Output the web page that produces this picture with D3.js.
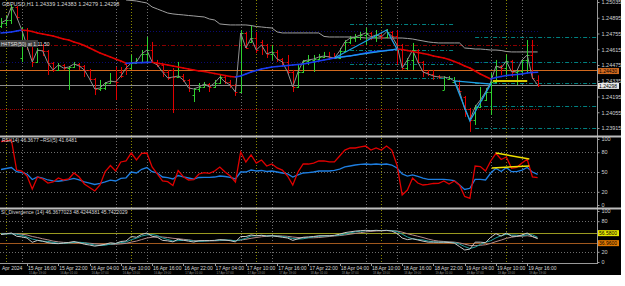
<!DOCTYPE html>
<html>
<head>
<meta charset="utf-8">
<script src="https://cdn.jsdelivr.net/npm/d3@7"></script>
<style>
  body { margin: 0; background: #fff; }
  svg { display: block; font-family: "Liberation Sans", Arial, sans-serif; }
</style>
</head>
<body>
<svg id="chart" width="625" height="286"></svg>
<script>
// GBPUSD H1, bars from 15 Apr 2024 11:00 (UTC), one per hour
const opens = [1.24822,1.24849,1.24875,1.24991,1.24537,1.24786,1.24644,1.24502,1.24608,1.24600,1.24493,1.24431,1.24475,1.24448,1.24457,1.24484,1.24466,1.24431,1.24351,1.24262,1.24271,1.24315,1.24333,1.24413,1.24484,1.24448,1.24493,1.24502,1.24573,1.24608,1.24502,1.24475,1.24413,1.24431,1.24368,1.24377,1.24342,1.24208,1.24262,1.24280,1.24306,1.24280,1.24315,1.24368,1.24324,1.24297,1.24235,1.24760,1.24680,1.24715,1.24680,1.24653,1.24573,1.24591,1.24528,1.24502,1.24413,1.24280,1.24413,1.24511,1.24520,1.24528,1.24546,1.24555,1.24546,1.24537,1.24600,1.24680,1.24715,1.24724,1.24742,1.24760,1.24724,1.24742,1.24724,1.24769,1.24733,1.24653,1.24448,1.24520,1.24608,1.24502,1.24413,1.24395,1.24377,1.24253,1.24351,1.24324,1.24333,1.24191,1.24084,1.23986,1.24102,1.24164,1.24235,1.24324,1.24466,1.24448,1.24511,1.24413,1.24422,1.24520,1.24564,1.24339];
const highs = [1.24893,1.24911,1.25009,1.25000,1.24813,1.24804,1.24653,1.24626,1.24662,1.24608,1.24502,1.24493,1.24484,1.24466,1.24502,1.24493,1.24475,1.24440,1.24360,1.24342,1.24324,1.24404,1.24457,1.24457,1.24493,1.24564,1.24537,1.24608,1.24724,1.24680,1.24520,1.24484,1.24431,1.24448,1.24502,1.24395,1.24351,1.24271,1.24315,1.24324,1.24315,1.24342,1.24386,1.24377,1.24342,1.24306,1.24786,1.24769,1.24822,1.24769,1.24697,1.24662,1.24653,1.24608,1.24537,1.24564,1.24431,1.24475,1.24520,1.24564,1.24564,1.24573,1.24591,1.24591,1.24582,1.24626,1.24697,1.24733,1.24751,1.24769,1.24804,1.24769,1.24786,1.24751,1.24795,1.24777,1.24786,1.24662,1.24537,1.24671,1.24617,1.24511,1.24431,1.24431,1.24386,1.24377,1.24377,1.24368,1.24342,1.24200,1.24093,1.24120,1.24280,1.24271,1.24404,1.24520,1.24475,1.24564,1.24520,1.24431,1.24520,1.24697,1.24697,1.24383];
const lows = [1.24804,1.24822,1.24840,1.24875,1.24502,1.24608,1.24457,1.24493,1.24555,1.24386,1.24413,1.24422,1.24431,1.24253,1.24448,1.24431,1.24368,1.24342,1.24208,1.24244,1.24253,1.24306,1.24164,1.24360,1.24386,1.24440,1.24484,1.24493,1.24493,1.24493,1.24457,1.24368,1.24342,1.24048,1.24360,1.24324,1.24235,1.24146,1.24235,1.24271,1.24235,1.24271,1.24306,1.24306,1.24271,1.24200,1.24226,1.24617,1.24671,1.24582,1.24564,1.24537,1.24520,1.24502,1.24466,1.24386,1.24235,1.24271,1.24404,1.24475,1.24413,1.24520,1.24537,1.24520,1.24528,1.24528,1.24591,1.24662,1.24680,1.24697,1.24653,1.24697,1.24680,1.24697,1.24715,1.24680,1.24475,1.24431,1.24431,1.24431,1.24484,1.24368,1.24377,1.24342,1.24351,1.24253,1.24342,1.24324,1.24208,1.24013,1.23880,1.23942,1.24093,1.24155,1.24031,1.24315,1.24386,1.24368,1.24368,1.24297,1.24386,1.24404,1.24351,1.24279];
const closes = [1.24849,1.24875,1.24991,1.24902,1.24786,1.24644,1.24502,1.24608,1.24600,1.24493,1.24431,1.24475,1.24448,1.24457,1.24484,1.24466,1.24431,1.24351,1.24262,1.24271,1.24315,1.24333,1.24324,1.24377,1.24448,1.24493,1.24502,1.24573,1.24608,1.24502,1.24475,1.24413,1.24360,1.24368,1.24377,1.24342,1.24271,1.24262,1.24280,1.24306,1.24280,1.24315,1.24368,1.24324,1.24297,1.24235,1.24760,1.24626,1.24715,1.24608,1.24653,1.24573,1.24591,1.24528,1.24502,1.24413,1.24280,1.24413,1.24511,1.24520,1.24528,1.24546,1.24555,1.24546,1.24537,1.24600,1.24680,1.24715,1.24724,1.24742,1.24760,1.24724,1.24742,1.24724,1.24769,1.24733,1.24653,1.24448,1.24520,1.24608,1.24502,1.24413,1.24395,1.24377,1.24368,1.24368,1.24360,1.24333,1.24244,1.24084,1.23986,1.24102,1.24164,1.24235,1.24324,1.24466,1.24448,1.24511,1.24413,1.24422,1.24520,1.24564,1.24360,1.24298];

// colour-changing moving average
const maValues = [1.24760,1.24764,1.24769,1.24777,1.24786,1.24782,1.24773,1.24760,1.24751,1.24742,1.24733,1.24720,1.24706,1.24697,1.24680,1.24666,1.24648,1.24626,1.24604,1.24582,1.24564,1.24546,1.24528,1.24511,1.24491,1.24493,1.24495,1.24496,1.24498,1.24500,1.24490,1.24484,1.24475,1.24466,1.24457,1.24448,1.24440,1.24431,1.24422,1.24417,1.24408,1.24399,1.24391,1.24382,1.24373,1.24368,1.24377,1.24395,1.24413,1.24426,1.24440,1.24448,1.24457,1.24462,1.24466,1.24471,1.24475,1.24480,1.24484,1.24493,1.24502,1.24511,1.24520,1.24528,1.24537,1.24546,1.24551,1.24555,1.24564,1.24573,1.24582,1.24591,1.24595,1.24600,1.24604,1.24608,1.24617,1.24613,1.24604,1.24595,1.24586,1.24577,1.24568,1.24555,1.24546,1.24537,1.24524,1.24506,1.24489,1.24466,1.24448,1.24422,1.24395,1.24373,1.24351,1.24364,1.24373,1.24382,1.24386,1.24391,1.24395,1.24404,1.24408,1.24410];

// stepped upper band, starts at bar 24
const bandStart = 24;
const bandValues = [1.25053,1.25049,1.25044,1.25035,1.25026,1.24991,1.24973,1.24955,1.24937,1.24929,1.24924,1.24920,1.24915,1.24911,1.24906,1.24902,1.24884,1.24875,1.24840,1.24835,1.24831,1.24831,1.24831,1.24831,1.24826,1.24817,1.24813,1.24808,1.24804,1.24769,1.24760,1.24760,1.24760,1.24760,1.24760,1.24760,1.24760,1.24760,1.24729,1.24724,1.24724,1.24724,1.24724,1.24724,1.24720,1.24720,1.24715,1.24715,1.24715,1.24715,1.24715,1.24715,1.24715,1.24715,1.24711,1.24706,1.24697,1.24689,1.24680,1.24675,1.24671,1.24671,1.24671,1.24671,1.24671,1.24626,1.24622,1.24617,1.24617,1.24613,1.24608,1.24608,1.24604,1.24595,1.24591,1.24591,1.24591,1.24591,1.24591,1.24591];

// horizontal levels
const priceTicks = [1.25035,1.24895,1.24755,1.24615,1.24475,1.24335,1.24195,1.24055,1.23915];
const orangeLevel = 1.24430;
const bidPrice = 1.24298;
const redDashLevel = 1.24653;
const redDotLevel = 1.24084;
const navyLevels = [1.24777, 1.24502];
const fiboA = { from: 67, to: 87, levels: [1.24840, 1.24608, 1.24484, 1.24360] };
const fiboB = { from: 91, levels: [1.24724, 1.24502, 1.24315, 1.24111, 1.23915] };

// drawn patterns [bar, price]
const triangleA = [[64, 1.24537], [74, 1.24786], [76, 1.24617], [64, 1.24537]];
const triangleB = [[87, 1.24333], [90, 1.23977], [94, 1.24306], [87, 1.24333]];
const yellowSegment = [[94.4, 1.24333], [101, 1.24333]];

// RSI panel
const rsiFast = [96.2,97,98.5,53,51.5,43.9,24.2,42.4,39.4,33.3,34.9,40.9,37.9,39.4,48.5,42.4,31.8,26.5,21.2,30.3,50.8,59.9,51.5,65.2,66.7,78.8,68.2,78.3,78.8,57.6,47,36.4,35.3,29.6,52.3,42.9,37.9,38.6,47,48.9,48,51.5,57.6,50,43.9,34.9,80.3,65.2,75.8,63.6,68.2,59.1,62.1,56.1,53,43.9,30.3,50,62.1,62.1,63.6,66.7,66.7,65.2,65.2,74.2,83.3,86.4,86.4,87.9,89.4,83.3,86.4,83.3,89.4,83.3,60.6,15.2,22.7,40.9,33.3,30.3,31.1,32.6,32.9,36.4,31.8,36.4,30.3,12.9,10.2,59.1,58.3,51.5,66.7,78.3,68.9,72.7,55.6,57.1,63.6,69.2,42.4,41.6];
const rsiSlow = [53.8,55.3,56.8,50.5,49.2,47,38.6,42.4,40.9,37.9,36.4,36,37.1,38.3,40.2,37.9,34.9,33.3,31.1,32.6,34.9,37.6,36.4,40.2,41.2,50,48.5,54.1,56.8,50.5,48.5,42.4,41.5,39.4,44.7,42.7,40.9,39.1,41.7,42,42,42.4,43.9,43.2,41.7,39.4,50,50,53,51.5,52.3,50.8,51.5,50,48.5,47,42.4,45.5,48.5,49.2,50,51.5,51.5,51.5,52.3,54.5,57.6,59.1,60.6,61.4,62.1,61.4,62.1,61.4,62.1,60.6,56.1,47,43.9,45.5,43.2,40.9,38.9,38.9,38.9,38.9,38.2,37.1,30.3,23.5,25.3,38.9,38.9,37.9,48.5,55.6,50.8,56.8,50.5,50.5,53,56.8,50,46.4];
const rsiLevels = [80, 50, 20];
const rsiTicks = [100, 80, 50, 20, 0];
const rsiDivLines = [[[95, 78.8], [101.4, 69.7]], [[94.2, 56.1], [101.4, 59.1]]];

// divergence panel
const divSignal = [55,55,55.3,54.2,52.2,48.9,44.9,42.7,40.6,40.4,38.4,36.8,36.5,37.1,38.5,38.8,37.7,35.4,33.1,32.3,32.9,35,36.3,38.1,39.3,43.8,46.6,50.9,53.1,53.8,51.9,47.1,44.1,41.1,41.9,42.3,42.8,40.9,40.6,40.9,41.9,42.1,42.8,43.2,42.9,41.4,43.7,46.5,51,51.5,52.3,51.5,51.5,50.8,50,48.5,46,45,45.5,47.7,49.2,50.2,51,51.5,51.8,52.8,54.8,57.1,59.1,60.4,61.4,61.6,61.9,61.6,61.9,61.4,59.6,54.6,49,45.5,44.2,43.2,41,39.6,38.9,38.9,38.7,38.1,35.2,30.3,26.4,29.2,34.4,38.6,41.8,47.3,51.6,54.4,52.7,52.6,51.3,53.4,53.3,48.4];
const divSlow = [56,56,56,55.5,54.5,53,50,48,45.5,43.5,41,39.5,38.5,38,37.8,37.8,37.5,36.8,35.8,35,34.5,34.5,34.8,35.5,36.5,39,41,44,47,48.5,49.5,49,48,46.5,45.5,44.5,43.5,42,41.5,41.5,41.5,41.5,42,42.3,42.4,42,43,44.5,46.5,48,49.5,50.5,51.5,51.5,51,50.3,49,48,47.5,47.5,47.5,48,49,50,51,51.8,53,54.5,56,57.5,59,60,60.8,61.2,61.5,61.5,60.8,58.5,55.5,53,50.5,48,45,42.5,41,40.3,39.6,39,37.5,35,32.5,32,32.8,33.8,36.5,40,43,46.5,48.5,50.2,50.6,51.5,49.8,45.7];
const divTicks = [100, 80, 20, 0];
const divUpper = 56.58;
const divLower = 36.96;

const sessionHours = [9, 12, 15];
const timeTickHours = [4, 10, 16, 22];

// layout
const plotRight = 597;
const frameRight = 621;
const frameBottom = 275;
const pxPerBar = 5.21;
const t0 = Date.UTC(2024, 3, 15, 11);
const HOUR = 3600e3;
const n = closes.length;
const barTime = i => new Date(t0 + i * HOUR);

const svg = d3.select("#chart");

svg.append("rect")
    .attr("width", frameRight).attr("height", frameBottom)
    .attr("fill", "#000");

const x = d3.scaleUtc()
    .domain([new Date(t0 - HOUR / pxPerBar), new Date(t0 + (plotRight - 1) / pxPerBar * HOUR)])
    .range([0, plotRight]);
const xb = i => x(barTime(i));

const y = d3.scaleLinear().domain([1.25035, 1.23915]).range([2, 128]);
const yRsi = d3.scaleLinear().domain([0, 100]).range([205, 139]);
const yDiv = d3.scaleLinear().domain([0, 100]).range([262, 211]);

svg.append("clipPath").attr("id", "clipMain")
    .append("rect").attr("width", plotRight).attr("height", 134);
svg.append("clipPath").attr("id", "clipRsi")
    .append("rect").attr("y", 137).attr("width", plotRight).attr("height", 69);
svg.append("clipPath").attr("id", "clipDiv")
    .append("rect").attr("y", 209).attr("width", plotRight).attr("height", 54);

// session verticals through all panels
const sessions = [];
for (let i = -3; i < 116; i++) {
    const h = barTime(i).getUTCHours();
    if (sessionHours.includes(h)) sessions.push({ i, h });
}
svg.append("g").selectAll("line")
    .data(sessions.filter(d => xb(d.i) > 0 && xb(d.i) < plotRight))
    .join("line")
    .attr("x1", d => Math.round(xb(d.i)) + 0.5)
    .attr("x2", d => Math.round(xb(d.i)) + 0.5)
    .attr("y1", 0).attr("y2", 263)
    .attr("stroke", d => d.h === 12 ? "#8a8a00" : "#6e6e6e")
    .attr("stroke-dasharray", "1,2");

// ---- main panel
const gMain = svg.append("g").attr("clip-path", "url(#clipMain)");

function hLine(g, yv, x1, x2, color, dash, w) {
    g.append("line")
        .attr("x1", x1).attr("x2", x2)
        .attr("y1", Math.round(yv) + 0.5).attr("y2", Math.round(yv) + 0.5)
        .attr("stroke", color)
        .attr("stroke-width", w || 1)
        .attr("stroke-dasharray", dash || null);
}

const lastX = xb(n - 1) + 2;
navyLevels.forEach(p => hLine(gMain, y(p), 0, lastX, "#0a0a70", "1,2"));
hLine(gMain, y(redDashLevel), 0, lastX, "#8b0000", "4,2,1,2");
hLine(gMain, y(redDotLevel), 0, lastX, "#a00000", "1,1");
fiboA.levels.forEach(p => hLine(gMain, y(p), xb(fiboA.from), xb(fiboA.to), "#008080", "4,2,1,2"));
fiboB.levels.forEach(p => hLine(gMain, y(p), xb(fiboB.from), plotRight, "#008080", "4,2,1,2"));
hLine(gMain, y(orangeLevel), 0, plotRight, "#d2691e");
hLine(gMain, y(bidPrice), 0, plotRight, "#8c8c8c");

const band = bandValues.map((v, k) => [bandStart + k, v]);
gMain.append("path")
    .attr("d", d3.line().x(d => xb(d[0])).y(d => y(d[1]))(band))
    .attr("fill", "none").attr("stroke", "#a0a0a0");

// bars
const bars = gMain.append("g").selectAll("g")
    .data(d3.range(n))
    .join("g")
    .attr("stroke", i => closes[i] >= opens[i] ? "#2ed12e" : "#e10000");
bars.append("line")
    .attr("x1", i => Math.round(xb(i)) + 0.5).attr("x2", i => Math.round(xb(i)) + 0.5)
    .attr("y1", i => y(highs[i])).attr("y2", i => y(lows[i]));
bars.append("line")
    .attr("x1", i => Math.round(xb(i)) - 1.5).attr("x2", i => Math.round(xb(i)) + 0.5)
    .attr("y1", i => Math.round(y(opens[i])) + 0.5).attr("y2", i => Math.round(y(opens[i])) + 0.5);
bars.append("line")
    .attr("x1", i => Math.round(xb(i)) + 0.5).attr("x2", i => Math.round(xb(i)) + 2.5)
    .attr("y1", i => Math.round(y(closes[i])) + 0.5).attr("y2", i => Math.round(y(closes[i])) + 0.5);

// close line
gMain.append("path")
    .attr("d", d3.line().x((d, i) => xb(i)).y(d => y(d))(closes))
    .attr("fill", "none").attr("stroke", "#8f8f8f");

// moving average, blue while rising, red while falling
gMain.append("g").selectAll("line")
    .data(d3.range(1, n))
    .join("line")
    .attr("x1", i => xb(i - 1)).attr("x2", i => xb(i))
    .attr("y1", i => y(maValues[i - 1])).attr("y2", i => y(maValues[i]))
    .attr("stroke", i => maValues[i] >= maValues[i - 1] ? "#1a3cf0" : "#e00000")
    .attr("stroke-width", 1.6)
    .attr("stroke-linecap", "round");

const patternLine = d3.line().x(d => xb(d[0])).y(d => y(d[1]));
[triangleA, triangleB].forEach(t => gMain.append("path")
    .attr("d", patternLine(t))
    .attr("fill", "none").attr("stroke", "#1ea0e6").attr("stroke-width", 1.3));
gMain.append("path")
    .attr("d", patternLine(yellowSegment))
    .attr("stroke", "#d6c800").attr("stroke-width", 2);

// titles
svg.append("text").attr("x", 2).attr("y", 6)
    .attr("font-size", 5.5).attr("fill", "#d8d8d8")
    .text("GBPUSD,H1  1.24339 1.24383 1.24279 1.24298");
svg.append("rect").attr("x", 0).attr("y", 40).attr("width", 38).attr("height", 7).attr("fill", "#3c3c3c");
svg.append("text").attr("x", 1).attr("y", 45.5)
    .attr("font-size", 5).attr("fill", "#e0e0e0")
    .text("H4TSR(50) at 1.11.50");

// price axis
const axisStyle = g => {
    g.select(".domain").attr("stroke", "#9a9a9a");
    g.selectAll(".tick line").attr("stroke", "#9a9a9a");
    g.selectAll(".tick text").attr("fill", "#d0d0d0").attr("font-size", 5.5)
        .attr("font-family", "Liberation Sans, Arial, sans-serif");
};
svg.append("g")
    .attr("transform", `translate(${plotRight + 0.5},0)`)
    .call(d3.axisRight(y).tickValues(priceTicks).tickFormat(d3.format(".5f")).tickSize(2).tickPadding(2))
    .call(axisStyle)
    .call(g => g.select(".domain").attr("d", "M0,0V263"));

function valueBox(yv, label, bg, fg) {
    svg.append("rect").attr("x", plotRight + 1).attr("y", yv - 3)
        .attr("width", 21).attr("height", 6).attr("fill", bg);
    svg.append("text").attr("x", plotRight + 2).attr("y", yv + 2)
        .attr("font-size", 5).attr("fill", fg).text(label);
}
valueBox(y(orangeLevel) + 1, d3.format(".5f")(orangeLevel), "#d2691e", "#000");
valueBox(y(bidPrice) + 1, d3.format(".5f")(bidPrice), "#e8e8e8", "#000");

// panel separators
[135.5, 207.5].forEach(v => hLine(svg, v, 0, frameRight, "#bdbdbd", null, 2));

// ---- RSI panel
const gRsi = svg.append("g").attr("clip-path", "url(#clipRsi)");
rsiLevels.forEach(v => hLine(gRsi, yRsi(v), 0, plotRight, "#6e6e6e", "1,2"));
gRsi.append("path")
    .attr("d", d3.line().x((d, i) => xb(i)).y(d => yRsi(d))(rsiSlow))
    .attr("fill", "none").attr("stroke", "#1e7ee0").attr("stroke-width", 1.3);
gRsi.append("path")
    .attr("d", d3.line().x((d, i) => xb(i)).y(d => yRsi(d))(rsiFast))
    .attr("fill", "none").attr("stroke", "#e00000").attr("stroke-width", 1.3);
rsiDivLines.forEach(l => gRsi.append("path")
    .attr("d", d3.line().x(d => xb(d[0])).y(d => yRsi(d[1]))(l))
    .attr("stroke", "#f0e000").attr("stroke-width", 1.5));

svg.append("text").attr("x", 2).attr("y", 142)
    .attr("font-size", 5).attr("fill", "#d8d8d8")
    .text("RSI(14) 46.3677  ~RSI(5) 41.6481");
svg.append("g")
    .attr("transform", `translate(${plotRight + 0.5},0)`)
    .call(d3.axisRight(yRsi).tickValues(rsiTicks).tickSize(2).tickPadding(2))
    .call(axisStyle)
    .call(g => g.select(".domain").remove());

// ---- divergence panel
const gDiv = svg.append("g").attr("clip-path", "url(#clipDiv)");
[80, 20].forEach(v => hLine(gDiv, yDiv(v), 0, plotRight, "#6e6e6e", "1,2"));
hLine(gDiv, yDiv(divUpper), 0, plotRight, "#9a9a20");
hLine(gDiv, yDiv(divLower), 0, plotRight, "#a0581e");
const divLine = d3.line().x((d, i) => xb(i)).y(d => yDiv(d));
gDiv.append("path").attr("d", divLine(divSlow))
    .attr("fill", "none").attr("stroke", "#b48c8c");
gDiv.append("path").attr("d", divLine(divSignal))
    .attr("fill", "none").attr("stroke", "#20a0a0");
gDiv.append("path").attr("d", divLine(rsiSlow))
    .attr("fill", "none").attr("stroke", "#c8c8c8");

svg.append("text").attr("x", 1).attr("y", 214)
    .attr("font-size", 5).attr("fill", "#d8d8d8")
    .text("SI_Divergence (14) 46.3677023 48.4244381 45.7422029");
svg.append("g")
    .attr("transform", `translate(${plotRight + 0.5},0)`)
    .call(d3.axisRight(yDiv).tickValues(divTicks).tickSize(2).tickPadding(2))
    .call(axisStyle)
    .call(g => g.select(".domain").remove());
valueBox(yDiv(divUpper), d3.format(".4f")(divUpper), "#e6e600", "#000");
valueBox(yDiv(divLower), d3.format(".4f")(divLower), "#e07800", "#000");

// ---- time axis
hLine(svg, 263, 0, plotRight + 1, "#9a9a9a");
const timeTicks = d3.range(n).map(barTime)
    .filter(t => timeTickHours.includes(t.getUTCHours()));
const fmt = d3.utcFormat("%-d %b %H:%M");
const gTime = svg.append("g");
gTime.selectAll("line").data(timeTicks).join("line")
    .attr("x1", d => Math.round(x(d)) + 0.5).attr("x2", d => Math.round(x(d)) + 0.5)
    .attr("y1", 263).attr("y2", 266).attr("stroke", "#9a9a9a");
gTime.selectAll("text.t1").data(timeTicks).join("text").attr("class", "t1")
    .attr("x", d => x(d) + 1).attr("y", 270)
    .attr("font-size", 5).attr("fill", "#d8d8d8")
    .text(fmt);
gTime.selectAll("text.t2").data(timeTicks).join("text").attr("class", "t2")
    .attr("x", d => x(d) + 2).attr("y", 273.5)
    .attr("font-size", 3).attr("fill", "#8a8a8a")
    .text(d => fmt(new Date(+d + 3 * HOUR)));
svg.append("text").attr("x", 2).attr("y", 270)
    .attr("font-size", 5).attr("fill", "#d8d8d8").text("Apr 2024");
</script>
</body>
</html>
